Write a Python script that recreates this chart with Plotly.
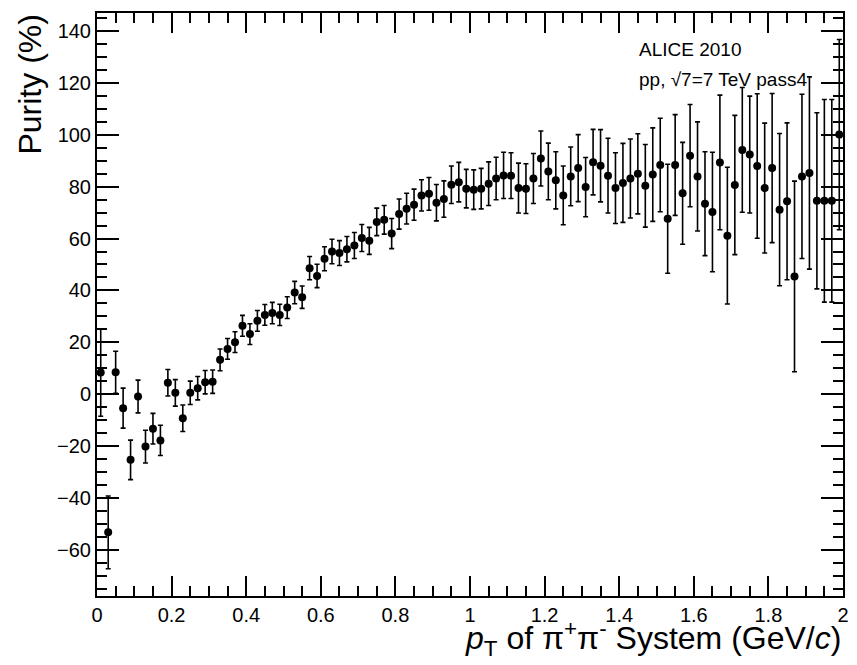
import numpy as np
import plotly.graph_objects as go

# Binning of the histogram: 100 bins of 0.02 GeV/c from 0 to 2
bin_low = 0.0
bin_width = 0.02
n_bins = 100
pt_centers = bin_low + bin_width * (np.arange(n_bins) + 0.5)

purity = [
    8.4, -53.1, 8.5, -5.3, -25.2, -0.8, -20.1, -13.2, -17.7, 4.5,
    0.6, -9.2, 0.6, 2.4, 4.7, 4.9, 13.3, 17.5, 20.1, 26.4,
    23.2, 28.3, 30.6, 31.3, 30.6, 33.4, 39.2, 37.4, 48.6, 45.6,
    52.2, 55.0, 54.4, 55.9, 57.3, 60.2, 59.1, 66.4, 67.2, 61.9,
    69.4, 71.5, 73.0, 76.6, 77.2, 73.8, 75.2, 80.7, 81.7, 79.2,
    78.8, 79.2, 81.1, 83.1, 84.3, 84.2, 79.4, 79.2, 83.1, 90.8,
    85.8, 82.4, 76.6, 83.9, 87.1, 79.8, 89.4, 88.0, 84.2, 79.4,
    81.4, 83.1, 84.9, 80.3, 84.6, 88.3, 67.6, 88.3, 77.4, 91.9,
    83.9, 73.4, 70.2, 89.3, 61.1, 80.6, 94.1, 92.3, 87.9, 79.4,
    87.1, 71.1, 74.3, 45.4, 83.9, 85.2, 74.5, 74.5, 74.5, 100.0,
]

purity_err = [
    16.8, 14.0, 8.1, 7.7, 7.6, 6.3, 6.3, 5.9, 5.8, 5.1,
    5.1, 5.1, 4.5, 4.5, 4.5, 4.5, 4.2, 4.0, 4.0, 4.0,
    4.0, 4.0, 4.0, 4.1, 4.1, 4.2, 4.3, 4.3, 4.5, 4.5,
    4.6, 4.7, 4.8, 4.9, 5.0, 5.2, 5.2, 5.3, 5.5, 5.8,
    5.8, 5.9, 6.0, 6.0, 6.3, 7.0, 7.0, 7.2, 7.6, 7.4,
    7.6, 7.8, 8.4, 8.2, 8.9, 8.8, 9.6, 9.6, 9.6, 10.6,
    10.9, 11.0, 11.3, 11.3, 12.9, 11.4, 12.6, 13.9, 14.4, 13.6,
    15.2, 15.2, 15.4, 15.9, 18.0, 18.0, 21.0, 19.4, 19.6, 19.7,
    21.0, 20.0, 23.0, 25.9, 26.3, 26.8, 24.0, 22.5, 27.8, 25.0,
    28.7, 29.3, 30.2, 36.7, 31.6, 37.0, 33.9, 39.0, 39.0, 36.6,
]

x_range = [0, 2]
y_range = [-77.6, 146.8]
x_major, x_minor = 0.2, 0.05
y_major, y_minor = 20, 5

FONT = "Liberation Sans, Arial, Helvetica, sans-serif"

fig = go.Figure()
fig.add_trace(go.Scatter(
    x=pt_centers, y=purity, mode="markers",
    marker=dict(color="black", size=8, symbol="circle"),
    error_y=dict(type="data", array=purity_err, visible=True,
                 color="black", thickness=1.6, width=2.5),
    showlegend=False, cliponaxis=True,
))

axis_common = dict(
    showline=True, linecolor="black", linewidth=2, mirror="allticks",
    ticks="inside", tickcolor="black", tickwidth=1.5,
    showgrid=False, zeroline=False,
    tickfont=dict(family=FONT, size=20, color="black"),
)

fig.update_xaxes(range=x_range, dtick=x_major, tick0=0, ticklen=20,
                 minor=dict(dtick=x_minor, ticks="inside", ticklen=10,
                            tickcolor="black", tickwidth=1.5, showgrid=False),
                 **axis_common)
fig.update_yaxes(range=y_range, dtick=y_major, tick0=0, ticklen=22,
                 minor=dict(dtick=y_minor, ticks="inside", ticklen=10,
                            tickcolor="black", tickwidth=1.5, showgrid=False),
                 **axis_common)

fig.add_annotation(
    text="Purity (%)", textangle=-90, xref="paper", yref="paper",
    x=-0.0904, y=1.0, xanchor="center", yanchor="top", showarrow=False,
    font=dict(family=FONT, size=32, color="black"),
)
fig.add_annotation(
    text="<i>p</i><sub>T</sub> of π<sup>+</sup>π<sup>-</sup> System (GeV/<i>c</i>)",
    xref="paper", yref="paper", x=1.0, y=-0.073, xanchor="right", yanchor="middle",
    showarrow=False, font=dict(family=FONT, size=32, color="black"),
)
fig.add_annotation(
    text="ALICE 2010", xref="paper", yref="paper",
    x=(641 - 97) / 752, y=(596 - 49.5) / 583, xanchor="left", yanchor="middle",
    showarrow=False, font=dict(family=FONT, size=19, color="black"),
)
fig.add_annotation(
    text="pp, √7=7 TeV pass4", xref="paper", yref="paper",
    x=(641 - 97) / 752, y=(596 - 79.5) / 583, xanchor="left", yanchor="middle",
    showarrow=False, font=dict(family=FONT, size=19, color="black"),
)

fig.update_layout(
    width=857, height=665,
    margin=dict(l=97, r=8, t=13, b=69),
    paper_bgcolor="white", plot_bgcolor="white",
    font=dict(family=FONT, color="black"),
)

fig.write_html("out.html")
